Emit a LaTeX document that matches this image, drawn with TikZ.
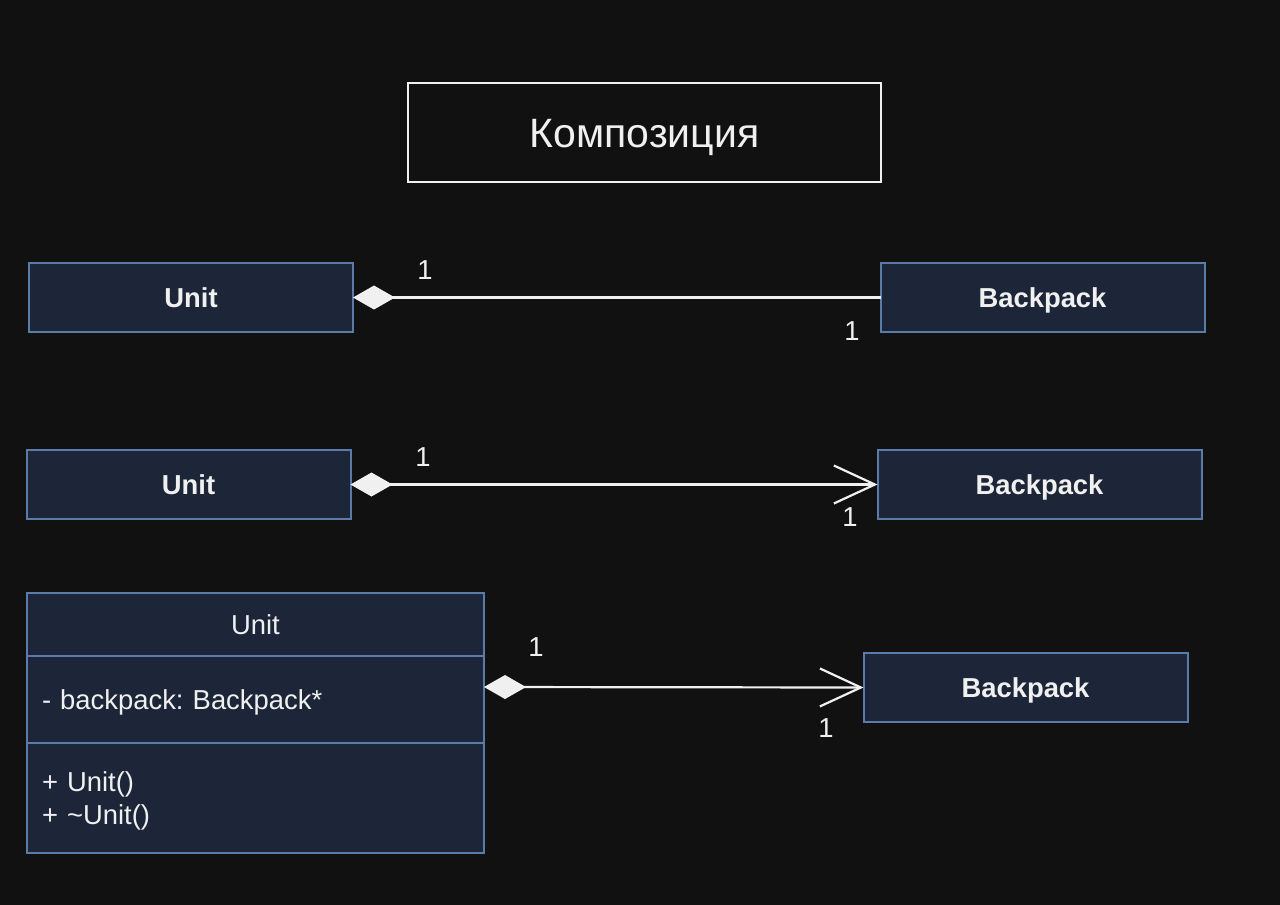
\documentclass[tikz,border=0pt]{standalone}
\usepackage{fontspec}
\setmainfont{Liberation Sans}
\usetikzlibrary{arrows.meta}
\definecolor{cmpback}{HTML}{111111}
\definecolor{cmpfill}{HTML}{1D2638}
\definecolor{cmpedge}{HTML}{5B7CA8}
\definecolor{cmptext}{HTML}{F0F0F0}
\tikzset{
  cmpbase/.style={
    line width=1pt,
    text=cmptext,
    inner sep=0pt,
    outer sep=0pt,
    text height=9.8pt,
    text depth=0pt,
    font=\fontsize{13.7}{16.5}\selectfont
  },
  cmptitle/.style={cmpbase,draw=cmptext,fill=cmpback,
                   minimum width=236.5pt,minimum height=49.5pt,
                   text height=14.7pt,
                   font=\fontsize{20.5}{24}\selectfont},
  cmpsimple/.style={cmpbase,draw=cmpedge,fill=cmpfill,
                    minimum width=162pt,minimum height=34.5pt,
                    font=\fontsize{13.7}{16.5}\selectfont\bfseries},
  cmpsection/.style={cmpbase,draw=cmpedge,fill=cmpfill,
                     minimum width=228.5pt,text width=213.5pt,align=left},
  cmpcomp/.style={{Diamond[length=21pt,width=12pt,fill=cmptext]}-,
                  line width=1.1pt,draw=cmptext},
  cmpnav/.style={{Diamond[length=21pt,width=12pt,fill=cmptext]}-{Straight Barb[length=20.5pt,width=19pt]},
                 line width=1.1pt,draw=cmptext},
  cmpmult/.style={cmpbase}
}

\begin{document}
\frenchspacing
\begin{tikzpicture}[x=0.5pt,y=-0.5pt]
  \fill[cmpback] (0,0) rectangle (1280,905);
  \useasboundingbox (0,0) rectangle (1280,905);

  \node[cmptitle] (title) at (644.5,132.5) {Композиция};

  % plain composition
  \node[cmpsimple] (unitA) at (191,297.5) {Unit};
  \node[cmpsimple] (packA) at (1042.5,297.5) {Backpack};
  \draw[cmpcomp] (unitA.east) -- (packA.west);
  \node[cmpmult] at (425,270) {1};
  \node[cmpmult] at (852,331) {1};

  % navigable composition
  \node[cmpsimple] (unitB) at (188.5,484.5) {Unit};
  \node[cmpsimple] (packB) at (1039.5,484.5) {Backpack};
  \draw[cmpnav] (unitB.east) -- (packB.west);
  \node[cmpmult] at (423,457) {1};
  \node[cmpmult] at (850,517) {1};

  % full class
  \node[cmpsection,align=center,minimum height=31.5pt] (unitC) at (255.5,624.5) {Unit};
  \node[cmpsection,minimum height=43.5pt] (unitCattr) at (255.5,699.5)
    {- backpack: Backpack*};
  \node[cmpsection,minimum height=55pt,text depth=16.5pt] (unitCops) at (255.5,798)
    {+ Unit()\\+ \textasciitilde Unit()};
  \node[cmpsimple] (packC) at (1025.5,687.5) {Backpack};
  \draw[cmpnav] ([yshift=6.25pt]unitCattr.east) -- (packC.west);
  \node[cmpmult] at (536,647) {1};
  \node[cmpmult] at (826,728) {1};
\end{tikzpicture}
\end{document}
